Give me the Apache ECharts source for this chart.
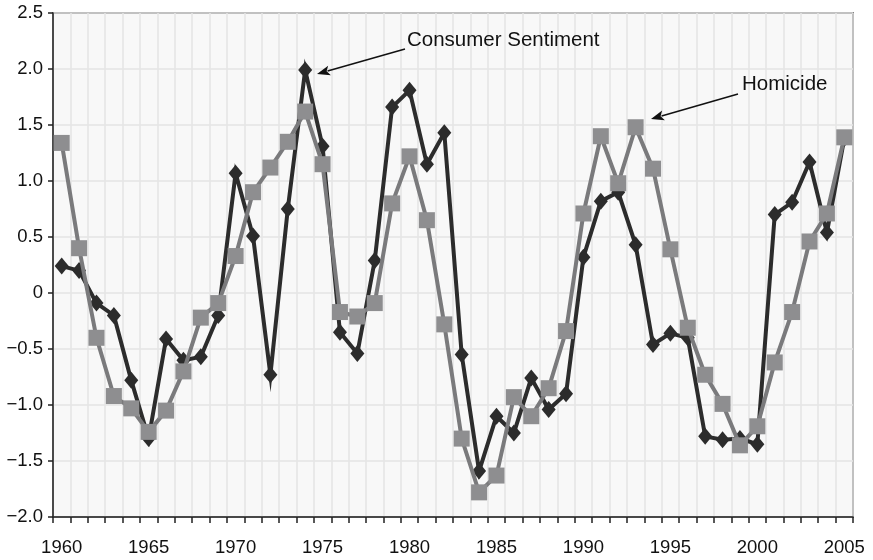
<!DOCTYPE html>
<html>
<head>
<meta charset="utf-8">
<title>Consumer Sentiment and Homicide</title>
<script src="https://cdn.jsdelivr.net/npm/echarts@6/dist/echarts.min.js"></script>
<style>
    html, body { margin: 0; padding: 0; background: #fff; }
    #main { width: 873px; height: 560px; }
</style>
</head>
<body>
<div id="main"></div>
<script>
// years on the x axis
var years = [
    '1960', '1961', '1962', '1963', '1964', '1965', '1966', '1967', '1968', '1969',
    '1970', '1971', '1972', '1973', '1974', '1975', '1976', '1977', '1978', '1979',
    '1980', '1981', '1982', '1983', '1984', '1985', '1986', '1987', '1988', '1989',
    '1990', '1991', '1992', '1993', '1994', '1995', '1996', '1997', '1998', '1999',
    '2000', '2001', '2002', '2003', '2004', '2005'
];

// standardized values
var consumerSentiment = [
    0.24, 0.20, -0.09, -0.20, -0.78, -1.30, -0.41, -0.60, -0.57, -0.20,
    1.07, 0.51, -0.73, 0.75, 1.99, 1.31, -0.35, -0.54, 0.29, 1.66,
    1.81, 1.15, 1.43, -0.55, -1.59, -1.10, -1.25, -0.76, -1.04, -0.90,
    0.32, 0.82, 0.90, 0.43, -0.46, -0.36, -0.40, -1.28, -1.31, -1.30,
    -1.35, 0.70, 0.81, 1.17, 0.54, 1.38
];

var homicide = [
    1.34, 0.40, -0.40, -0.92, -1.03, -1.24, -1.05, -0.70, -0.22, -0.09,
    0.33, 0.90, 1.12, 1.35, 1.62, 1.15, -0.17, -0.21, -0.09, 0.80,
    1.22, 0.65, -0.28, -1.30, -1.78, -1.63, -0.93, -1.10, -0.85, -0.34,
    0.71, 1.40, 0.98, 1.48, 1.11, 0.39, -0.31, -0.73, -0.99, -1.36,
    -1.19, -0.62, -0.17, 0.46, 0.71, 1.39
];

var fontFamily = '"Liberation Sans", Arial, sans-serif';

// arrow (line + head) from (x1,y1) to (x2,y2), head at the end
function arrow(x1, y1, x2, y2) {
    var dx = x2 - x1, dy = y2 - y1;
    var len = Math.sqrt(dx * dx + dy * dy);
    var ux = dx / len, uy = dy / len;
    var hl = 13, hw = 5;
    var bx = x2 - ux * hl, by = y2 - uy * hl;
    return [
        {
            type: 'line',
            z: 10,
            shape: {x1: x1, y1: y1, x2: bx + ux * 2, y2: by + uy * 2},
            style: {stroke: '#111', lineWidth: 1.5}
        },
        {
            type: 'polygon',
            z: 10,
            shape: {points: [[x2, y2], [bx - uy * hw, by + ux * hw], [bx + ux * 3, by + uy * 3], [bx + uy * hw, by - ux * hw]]},
            style: {fill: '#111'}
        }
    ];
}

var chart = echarts.init(document.getElementById('main'));

var option = {
    animation: false,
    backgroundColor: '#fff',
    grid: {
        left: 53,
        right: 20,
        top: 13,
        bottom: 43,
        show: true,
        backgroundColor: '#f8f8f8',
        borderColor: '#222',
        borderWidth: 1.5
    },
    xAxis: {
        type: 'category',
        data: years,
        boundaryGap: true,
        axisLine: {onZero: false, lineStyle: {color: '#222', width: 1.5}},
        axisTick: {show: true, interval: 0, length: 6, lineStyle: {color: '#222', width: 1.5}},
        axisLabel: {interval: 4, margin: 21, color: '#111', fontSize: 18.5, fontFamily: fontFamily},
        splitLine: {show: true, interval: 0, lineStyle: {color: '#e4e4e4', width: 1.5}}
    },
    yAxis: {
        type: 'value',
        min: -2,
        max: 2.5,
        interval: 0.5,
        axisLine: {show: true, lineStyle: {color: '#222', width: 1.5}},
        axisTick: {show: true, length: 5, lineStyle: {color: '#222', width: 1.5}},
        axisLabel: {
            margin: 10,
            color: '#111',
            fontSize: 18.5,
            fontFamily: fontFamily,
            formatter: function (v) {
                if (v === 0) return '0';
                return v.toFixed(1).replace('-', '\u2212');
            }
        },
        splitLine: {show: true, lineStyle: {color: '#e4e4e4', width: 1.5}}
    },
    series: [
        {
            name: 'Consumer Sentiment',
            type: 'line',
            data: consumerSentiment,
            symbol: 'diamond',
            symbolSize: [14, 17],
            showAllSymbol: true,
            itemStyle: {color: '#2c2c2c'},
            lineStyle: {color: '#2c2c2c', width: 4, join: 'miter', miterLimit: 10},
            z: 2
        },
        {
            name: 'Homicide',
            type: 'line',
            data: homicide,
            symbol: 'rect',
            symbolSize: 16,
            showAllSymbol: true,
            itemStyle: {color: '#8e8e90'},
            lineStyle: {color: '#7a7a7c', width: 4, join: 'miter', miterLimit: 10},
            z: 3
        }
    ],
    graphic: [
        {
            type: 'text',
            left: 407,
            top: 30,
            z: 10,
            style: {text: 'Consumer Sentiment', fill: '#111', fontSize: 20.5, fontFamily: fontFamily}
        },
        {
            type: 'text',
            left: 742,
            top: 74,
            z: 10,
            style: {text: 'Homicide', fill: '#111', fontSize: 20.5, fontFamily: fontFamily}
        }
    ].concat(arrow(405, 49, 317, 74)).concat(arrow(738, 94, 651, 119))
};

chart.setOption(option);
</script>
</body>
</html>
